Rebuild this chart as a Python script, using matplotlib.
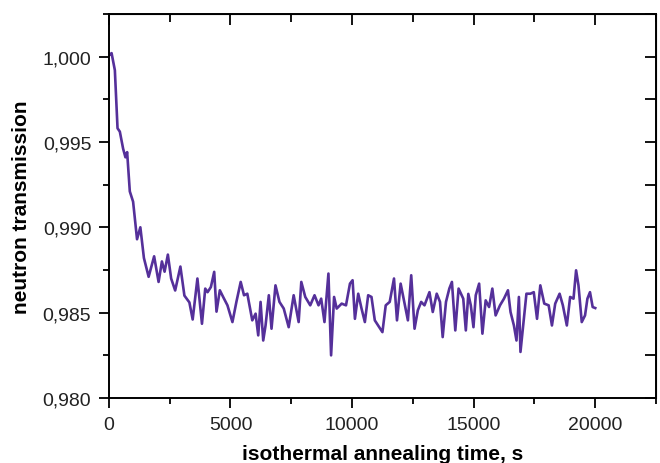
import numpy as np
import matplotlib
matplotlib.use('Agg')
import matplotlib.pyplot as plt
from matplotlib.ticker import MultipleLocator, FuncFormatter

plt.rcParams['font.family'] = ['Liberation Sans', 'DejaVu Sans']

# isothermal annealing time, s
time_s = [30, 110, 245, 355, 450, 585, 680, 750, 860, 995,
          1157, 1293, 1440, 1634, 1860, 2043, 2180, 2290, 2425, 2560,
          2725, 2940, 3105, 3310, 3445, 3640, 3827, 3962, 4057, 4194,
          4330, 4425, 4562, 4698, 4875, 5080, 5243, 5420, 5556, 5692,
          5896, 6033, 6141, 6237, 6346, 6442, 6577, 6687, 6850, 7014,
          7190, 7394, 7598, 7803, 7912, 8075, 8280, 8456, 8620, 8729,
          8865, 9028, 9137, 9260, 9368, 9572, 9750, 9913, 10021, 10117,
          10253, 10389, 10526, 10662, 10798, 10935, 11071, 11248, 11384, 11548,
          11724, 11847, 11997, 12120, 12296, 12432, 12569, 12705, 12841, 12978,
          13182, 13318, 13481, 13616, 13726, 13862, 13999, 14106, 14245, 14380,
          14572, 14678, 14780, 14882, 14992, 15086, 15225, 15360, 15494, 15634,
          15768, 15903, 16083, 16246, 16410, 16516, 16655, 16761, 16860, 16925,
          17035, 17170, 17333, 17472, 17606, 17741, 17904, 18084, 18219, 18354,
          18534, 18668, 18832, 18967, 19106, 19212, 19310, 19445, 19580, 19678,
          19784, 19894, 20000]

transmission = [1.0001, 1.0002, 0.9992, 0.9958, 0.9956, 0.9946, 0.9941, 0.9944, 0.9921, 0.9915,
                0.9893, 0.9900, 0.9882, 0.9871, 0.9883, 0.9868, 0.9880, 0.9874, 0.9884, 0.9870,
                0.9863, 0.9877, 0.9860, 0.9856, 0.9846, 0.9870, 0.98435, 0.98641, 0.9862, 0.9865,
                0.98739, 0.98506, 0.98631, 0.98592, 0.98543, 0.98445, 0.98563, 0.9868, 0.98602, 0.98611,
                0.98455, 0.98494, 0.98367, 0.98563, 0.98337, 0.98425, 0.98602, 0.98406, 0.9866, 0.98563,
                0.98524, 0.98415, 0.98602, 0.98445, 0.9868, 0.98592, 0.98543, 0.98602, 0.98543, 0.98582,
                0.98445, 0.98729, 0.9825, 0.98592, 0.98524, 0.98553, 0.98543, 0.9867, 0.9869, 0.98464,
                0.98611, 0.98524, 0.98445, 0.98602, 0.98592, 0.98455, 0.98425, 0.98386, 0.98543, 0.98563,
                0.9870, 0.98455, 0.9867, 0.98582, 0.98455, 0.98719, 0.98406, 0.98514, 0.98563, 0.98543,
                0.9862, 0.98504, 0.98611, 0.98563, 0.98357, 0.98563, 0.98641, 0.9868, 0.98396, 0.98641,
                0.98582, 0.98396, 0.9861, 0.98543, 0.98415, 0.98602, 0.9867, 0.98377, 0.98572, 0.98533,
                0.98641, 0.98484, 0.98543, 0.98582, 0.98631, 0.98504, 0.98425, 0.98337, 0.98592, 0.9827,
                0.98425, 0.98611, 0.98611, 0.9862, 0.98464, 0.9866, 0.98553, 0.98543, 0.98425, 0.98553,
                0.98611, 0.98543, 0.98425, 0.98592, 0.98582, 0.98748, 0.9866, 0.98445, 0.98484, 0.98582,
                0.9862, 0.98533, 0.98527]

fig = plt.figure(figsize=(6.6, 4.64), dpi=100)
ax = fig.add_axes([0.165, 0.140, 0.829, 0.828])

ax.plot(time_s, transmission, color='#55309a', lw=1.9)

ax.set_xlim(0, 22500)
ax.set_ylim(0.980, 1.0025)
ax.xaxis.set_major_locator(MultipleLocator(5000))
ax.xaxis.set_minor_locator(MultipleLocator(2500))
ax.yaxis.set_major_locator(MultipleLocator(0.005))
ax.yaxis.set_minor_locator(MultipleLocator(0.0025))
ax.yaxis.set_major_formatter(FuncFormatter(lambda v, p: ('%.3f' % v).replace('.', ',')))

ax.tick_params(which='major', direction='out', length=7.2, width=1.3, pad=5.5,
               labelsize=14, labelcolor='#222222')
ax.tick_params(which='minor', direction='out', length=4, width=1.3)
for s in ax.spines.values():
    s.set_linewidth(1.4)

# inward ticks on top and right
top = ax.secondary_xaxis('top')
top.xaxis.set_major_locator(MultipleLocator(5000))
top.xaxis.set_minor_locator(MultipleLocator(2500))
top.tick_params(which='major', direction='in', length=8, width=1.3, labeltop=False)
top.tick_params(which='minor', direction='in', length=6, width=1.3)
right = ax.secondary_yaxis('right')
right.yaxis.set_major_locator(MultipleLocator(0.005))
right.yaxis.set_minor_locator(MultipleLocator(0.0025))
right.tick_params(which='major', direction='in', length=8, width=1.3, labelright=False)
right.tick_params(which='minor', direction='in', length=8, width=1.3)

ax.set_xlabel('isothermal annealing time, s', fontsize=15, fontweight='bold', labelpad=8)
ax.set_ylabel('neutron transmission', fontsize=15, fontweight='bold', labelpad=8)

fig.savefig('out.png', dpi=100)
